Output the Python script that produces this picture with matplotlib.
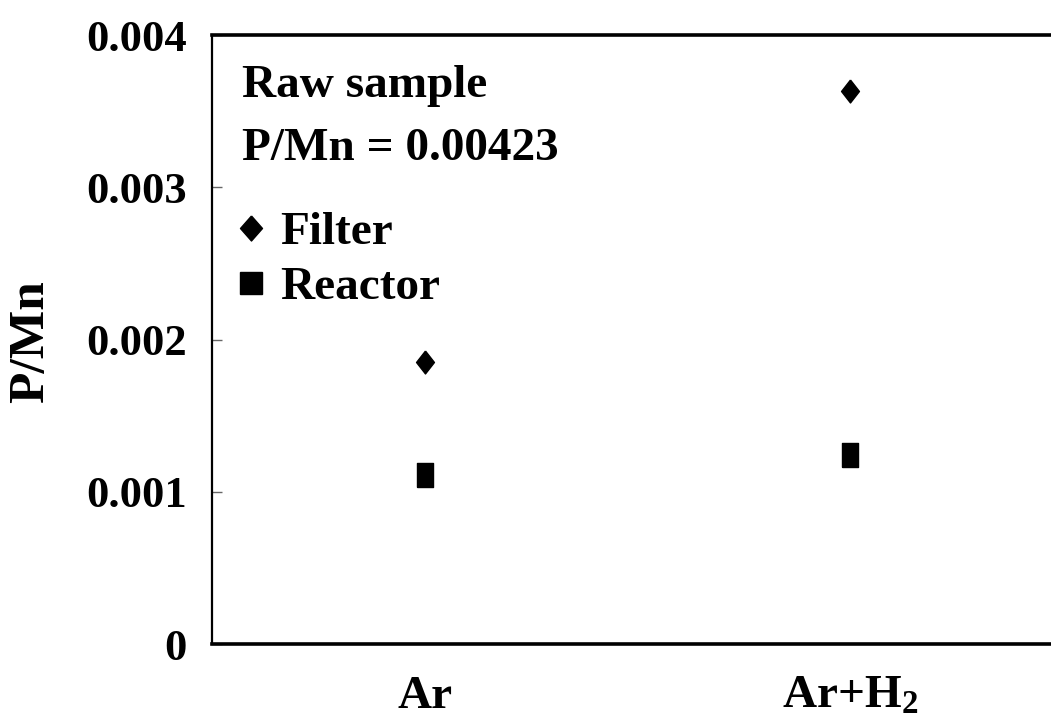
import matplotlib
matplotlib.use("Agg")
import matplotlib.pyplot as plt
from matplotlib.lines import Line2D

plt.rcParams["font.family"] = ["Liberation Serif", "DejaVu Serif"]
plt.rcParams["font.weight"] = "bold"
plt.rcParams["mathtext.fontset"] = "custom"
plt.rcParams["mathtext.rm"] = "Liberation Serif:bold"
plt.rcParams["mathtext.it"] = "Liberation Serif:bold"
plt.rcParams["mathtext.bf"] = "Liberation Serif:bold"

# P/Mn ratio of the deposits, per carrier gas
CONDITIONS = ["Ar", r"Ar+H$_2$"]
FILTER = [0.00185, 0.00363]
REACTOR = [0.00111, 0.00124]
RAW_RATIO = 0.00423

Y_TICKS = [0, 0.001, 0.002, 0.003, 0.004]
Y_TICK_LABELS = ["0", "0.001", "0.002", "0.003", "0.004"]

# narrow, tall markers
DIAMOND = [(0, 1), (0.78, 0), (0, -1), (-0.78, 0), (0, 1)]
RECT = [(-0.71, -1), (0.71, -1), (0.71, 1), (-0.71, 1), (-0.71, -1)]
DIAMOND_KEY = [(0, 1), (0.88, 0), (0, -1), (-0.88, 0), (0, 1)]

W, H = 1051, 721
fig = plt.figure(figsize=(W / 100, H / 100), dpi=100)
ax = fig.add_axes([212 / W, 1 - 644 / H, (1062.5 - 212) / W, (644 - 35) / H])

x = list(range(1, len(CONDITIONS) + 1))
ax.plot(x, FILTER, linestyle="none", marker=DIAMOND, ms=16.5, color="black")
ax.plot(x, REACTOR, linestyle="none", marker=RECT, ms=17, color="black")

ax.set_xlim(0.5, 2.5)
ax.set_ylim(0, 0.004)
ax.set_xticks(x)
ax.set_xticklabels(CONDITIONS, fontsize=34)
ax.set_yticks(Y_TICKS)
ax.set_yticklabels(Y_TICK_LABELS, fontsize=32)
ax.tick_params(axis="x", length=0, pad=23)
ax.tick_params(axis="y", direction="in", length=7, width=1, color="#666666", pad=18)

ax.spines["right"].set_visible(False)
ax.spines["top"].set_linewidth(2.6)
ax.spines["bottom"].set_linewidth(2.6)
ax.spines["left"].set_linewidth(1.6)

fig.text(31 / W, 1 - 342 / H, "P/Mn", rotation=90, ha="center", va="center", fontsize=37)

fig.text(242 / W, 1 - 97 / H, "Raw sample", fontsize=34, va="baseline")
fig.text(242 / W, 1 - 160 / H, f"P/Mn = {RAW_RATIO:.5f}", fontsize=34, va="baseline")

handles = [
    Line2D([], [], linestyle="none", marker=DIAMOND_KEY, ms=18, color="black", label="Filter"),
    Line2D([], [], linestyle="none", marker="s", ms=16, color="black", label="Reactor"),
]
fig.legend(handles=handles, loc="upper left", bbox_to_anchor=(237 / W, 1 - 211 / H),
           frameon=False, fontsize=34, handlelength=0.6, handletextpad=0.32,
           labelspacing=0.26, borderpad=0, borderaxespad=0)

fig.savefig("out.png", dpi=100)
